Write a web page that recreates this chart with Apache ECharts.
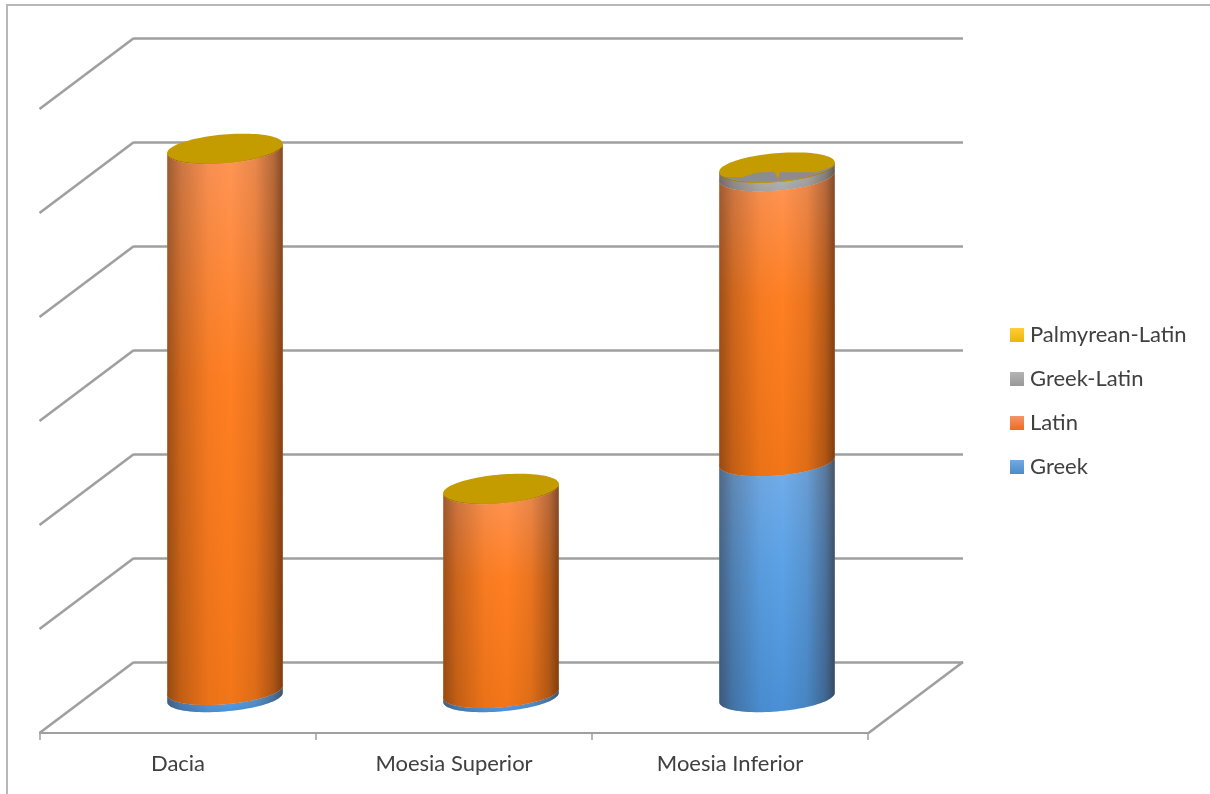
<!DOCTYPE html>
<html>
<head>
<meta charset="utf-8">
<title>Inscriptions by language and province</title>
<style>html,body{margin:0;padding:0;background:#fff}#chart{width:1210px;height:794px}</style>
<script src="https://cdn.jsdelivr.net/npm/echarts@6/dist/echarts.min.js"></script>
</head>
<body>
<div id="chart"></div>
<script>
// Chart values
const categories = ['Dacia', 'Moesia Superior', 'Moesia Inferior'];
const greek = [7, 4, 227];
const latin = [520, 196, 274];
const greekLatin = [0, 0, 8];
const palmyreanLatin = [1, 1, 1];
const gridTicks = [0, 100, 200, 300, 400, 500, 600];
const legendOrder = ['Palmyrean-Latin', 'Greek-Latin', 'Latin', 'Greek'];

// Pseudo-3D projection: depth of the floor, drawn as a screen offset
const DEPTH_DX = 94.5;
const DEPTH_DY = 71;
const LINE = '#9f9f9f';
const TEXT = '#404040';
const FONT = 'Lato';

// Cylinder cross-section
const WIDTH_RATIO = 0.42;
const FLATNESS = 0.24;
const TILT = -4.9 * Math.PI / 180;
const TURN = Math.atan(-FLATNESS * Math.tan(TILT));

const palettes = {
  'Greek': { stops: ['#74aeea', '#5ca2e6', '#4a90d6'], cap: '#5b9bd5' },
  'Latin': { stops: ['#ff9658', '#ff7f22', '#f37618'], cap: '#ed7d31' },
  'Greek-Latin': { stops: ['#c0c0c0', '#b4b4b4', '#a8a8a8'], cap: '#8c8c90' },
  'Palmyrean-Latin': { stops: ['#c89c00', '#c89c00', '#c89c00'], cap: '#c59c00' }
};

function vertical(top, bottom) {
  return { type: 'linear', x: 0, y: 0, x2: 0, y2: 1,
    colorStops: [{ offset: 0, color: top }, { offset: 1, color: bottom }] };
}

// Sheen around the barrel: dark towards both edges, clear near the middle
const barrelShade = { type: 'linear', x: 0, y: 0, x2: 1, y2: 0, colorStops: [
  { offset: 0, color: 'rgba(40,20,10,0.45)' },
  { offset: 0.12, color: 'rgba(40,20,10,0.24)' },
  { offset: 0.36, color: 'rgba(40,20,10,0.04)' },
  { offset: 0.55, color: 'rgba(40,20,10,0)' },
  { offset: 0.76, color: 'rgba(40,20,10,0.1)' },
  { offset: 0.92, color: 'rgba(40,20,10,0.34)' },
  { offset: 1, color: 'rgba(40,20,10,0.58)' }
] };

function ellipsePoint(cx, cy, a, t) {
  const b = a * FLATNESS;
  const ex = a * Math.cos(t);
  const ey = b * Math.sin(t);
  return [cx + ex * Math.cos(TILT) - ey * Math.sin(TILT),
          cy + ex * Math.sin(TILT) + ey * Math.cos(TILT)];
}

function arc(cx, cy, a, from, to, steps) {
  const pts = [];
  for (let i = 0; i <= steps; i++) {
    pts.push(ellipsePoint(cx, cy, a, from + (to - from) * i / steps));
  }
  return pts;
}

// Where the thin top layers interpenetrate, the grey disc shows through the gold one.
// Outline in unit-disc coordinates of the cap.
const SHOW_THROUGH = [[0.94, 0.31], [0.66, 0.61], [0.04, 0.39], [0, 0.88], [-0.05, 0.31],
  [-0.38, 0.27], [-0.61, 0.52], [-0.93, 0.36]];

function cylinderSegment(name) {
  const pal = palettes[name];
  return function (params, api) {
    const cat = api.value(0);
    const lower = api.coord([cat, api.value(1)]);
    const upper = api.coord([cat, api.value(2)]);
    const a = api.size([1, 0])[0] * WIDTH_RATIO / 2;
    const bottomArc = arc(lower[0], lower[1], a, TURN, TURN + Math.PI, 48);
    const topArc = arc(upper[0], upper[1], a, TURN + Math.PI, TURN, 48);
    const outline = bottomArc.concat(topArc);
    const capPts = arc(upper[0], upper[1], a, 0, Math.PI * 2, 96);
    const children = [
      { type: 'polygon', shape: { points: outline },
        style: { fill: { type: 'linear', x: 0, y: 0, x2: 0, y2: 1, colorStops: [
          { offset: 0, color: pal.stops[0] },
          { offset: 0.42, color: pal.stops[1] },
          { offset: 1, color: pal.stops[2] }] } } },
      { type: 'polygon', shape: { points: outline }, style: { fill: barrelShade } },
      { type: 'polygon', shape: { points: capPts }, style: { fill: pal.cap } }
    ];
    if (name === 'Palmyrean-Latin' && greekLatin[cat] > 0) {
      const c = Math.cos(TILT), s = Math.sin(TILT), b = a * FLATNESS;
      const patch = SHOW_THROUGH.map(function (p) {
        const ex = p[0] * a, ey = p[1] * b;
        return [upper[0] + ex * c - ey * s, upper[1] + ex * s + ey * c];
      }).concat(arc(upper[0], upper[1], a, Math.PI - 0.37, 0.32, 30));
      children.push({ type: 'polygon', shape: { points: patch },
        style: { fill: palettes['Greek-Latin'].cap } });
    }
    return { type: 'group', children: children };
  };
}

// Stack the four layers per province
const layers = [
  { name: 'Greek', values: greek },
  { name: 'Latin', values: latin },
  { name: 'Greek-Latin', values: greekLatin },
  { name: 'Palmyrean-Latin', values: palmyreanLatin }
];
const running = categories.map(function () { return 0; });
const cylinderSeries = layers.map(function (layer) {
  const data = [];
  layer.values.forEach(function (v, i) {
    if (v > 0) data.push([i, running[i], running[i] + v]);
    running[i] += v;
  });
  return {
    type: 'custom', name: layer.name, xAxisIndex: 1, yAxisIndex: 1,
    coordinateSystem: 'cartesian2d', clip: false, silent: true,
    encode: { x: 0, y: [1, 2] }, data: data,
    itemStyle: { color: palettes[layer.name].stops[1] },
    renderItem: cylinderSegment(layer.name)
  };
});

// Side-wall and floor lines running from the back plane to the front plane
const wallSeries = {
  type: 'custom', name: 'walls', xAxisIndex: 0, yAxisIndex: 0, silent: true, clip: false,
  data: gridTicks.map(function (v) { return [0, v]; }),
  encode: { x: 0, y: 1 },
  renderItem: function (params, api) {
    const y = api.coord([0, api.value(1)])[1];
    const left = params.coordSys.x;
    const right = left + params.coordSys.width;
    const style = { stroke: LINE, lineWidth: 2.6, fill: null };
    const children = [{ type: 'line', style: style,
      shape: { x1: left, y1: y, x2: left - DEPTH_DX, y2: y + DEPTH_DY } }];
    if (api.value(1) === 0) {
      children.push({ type: 'line', style: style,
        shape: { x1: right, y1: y, x2: right - DEPTH_DX, y2: y + DEPTH_DY } });
    }
    return { type: 'group', children: children };
  }
};

const legendSwatches = {
  'Palmyrean-Latin': vertical('#ffcc3a', '#eeb600'),
  'Greek-Latin': vertical('#b4b4b4', '#989898'),
  'Latin': vertical('#f4946a', '#ee6c1c'),
  'Greek': vertical('#74a9e0', '#4a8cca')
};

const hiddenCategory = { type: 'category', data: categories, show: false };
const hiddenValue = { type: 'value', min: 0, max: 600, interval: 100, show: false };

const chart = echarts.init(document.getElementById('chart'), null, { renderer: 'canvas' });
chart.setOption({
  animation: false,
  backgroundColor: '#ffffff',
  textStyle: { fontFamily: FONT },
  graphic: [{
    type: 'rect', silent: true, z: -1,
    shape: { x: 7, y: 5, width: 1400, height: 1000 },
    style: { fill: null, stroke: '#b8b8b8', lineWidth: 2 }
  }],
  grid: [
    { left: 134, top: 38, width: 829, height: 624 },     // back wall
    { left: 87, top: 73.5, width: 828, height: 624 },    // plane through the cylinder axes
    { left: 40, top: 109, width: 828, height: 624 }      // front edge of the floor
  ],
  xAxis: [
    Object.assign({ gridIndex: 0 }, hiddenCategory),
    Object.assign({ gridIndex: 1 }, hiddenCategory),
    {
      gridIndex: 2, type: 'category', data: categories, boundaryGap: true,
      axisLine: { lineStyle: { color: LINE, width: 2.2 } },
      axisTick: { show: true, alignWithLabel: false, length: 7, lineStyle: { color: LINE, width: 1.5 } },
      axisLabel: { color: TEXT, fontFamily: FONT, fontSize: 22, margin: 20 }
    }
  ],
  yAxis: [
    { gridIndex: 0, type: 'value', min: 0, max: 600, interval: 100,
      axisLine: { show: false }, axisTick: { show: false }, axisLabel: { show: false },
      splitLine: { show: true, showMinLine: true, showMaxLine: true, lineStyle: { color: LINE, width: 2.6 } } },
    Object.assign({ gridIndex: 1 }, hiddenValue),
    Object.assign({ gridIndex: 2 }, hiddenValue)
  ],
  legend: {
    orient: 'vertical', left: 1005, top: 319, itemWidth: 14, itemHeight: 14, itemGap: 22,
    icon: 'rect',
    textStyle: { color: TEXT, fontFamily: FONT, fontSize: 22, padding: [0, 0, 0, 1] },
    selectedMode: false,
    data: legendOrder.map(function (name) {
      return { name: name, icon: 'rect', itemStyle: { color: legendSwatches[name] } };
    })
  },
  series: [wallSeries].concat(cylinderSeries)
});
</script>
</body>
</html>
